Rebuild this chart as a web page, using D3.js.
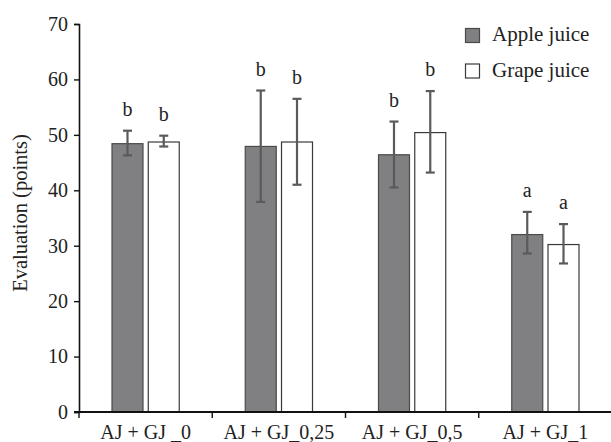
<!DOCTYPE html>
<html>
<head>
    <meta charset="utf-8">
    <script src="https://d3js.org/d3.v7.min.js" charset="utf-8"></script>
    <style>
        body { margin: 0; background: #fff; }
        text { font-family: "Liberation Serif", "Times New Roman", serif; fill: #222; }
    </style>
</head>
<body>
    <div id="chart_container"></div>
    <script>
        // data
        var categories = ['AJ + GJ _0', 'AJ + GJ_0,25', 'AJ + GJ_0,5', 'AJ + GJ_1'];
        var series = ['Apple juice', 'Grape juice'];
        var appleMean = [48.5, 48.0, 46.5, 32.1];
        var appleLow = [46.3, 37.9, 40.5, 28.6];
        var appleHigh = [50.75, 58.0, 52.4, 36.1];
        var grapeMean = [48.8, 48.8, 50.5, 30.3];
        var grapeLow = [47.9, 41.0, 43.2, 26.8];
        var grapeHigh = [49.85, 56.5, 57.9, 33.9];
        var appleLetters = ['b', 'b', 'b', 'a'];
        var grapeLetters = ['b', 'b', 'b', 'a'];
        var yTicks = [0, 10, 20, 30, 40, 50, 60, 70];

        var width = 611,
            height = 442;
        var margin = { top: 24, right: 0, bottom: 30, left: 79 };
        var plotRight = 612;

        var svg = d3.select('#chart_container')
            .append('svg')
            .attr('width', width)
            .attr('height', height);

        var x = d3.scaleBand()
            .domain(categories)
            .range([margin.left, plotRight])
            .paddingInner(0)
            .paddingOuter(0);

        var xInner = d3.scaleBand()
            .domain(series)
            .range([32.5, x.bandwidth() - 32.5])
            .paddingInner(8 / 68);

        var y = d3.scaleLinear()
            .domain([0, 70])
            .range([412, margin.top]);

        var rows = categories.map(function (c, i) {
            return [
                { cat: c, s: series[0], mean: appleMean[i], lo: appleLow[i], hi: appleHigh[i], letter: appleLetters[i] },
                { cat: c, s: series[1], mean: grapeMean[i], lo: grapeLow[i], hi: grapeHigh[i], letter: grapeLetters[i] }
            ];
        });
        var flat = [].concat.apply([], rows);

        var fills = { 'Apple juice': '#808083', 'Grape juice': '#ffffff' };
        var strokes = { 'Apple juice': '#4a4a4a', 'Grape juice': '#3a3a3a' };

        // bars
        svg.append('g').selectAll('rect')
            .data(flat)
            .enter().append('rect')
            .attr('x', function (d) { return x(d.cat) + xInner(d.s) + 0.5; })
            .attr('y', function (d) { return y(d.mean) + 0.5; })
            .attr('width', xInner.bandwidth() - 1)
            .attr('height', function (d) { return y(0) - y(d.mean) - 0.5; })
            .attr('fill', function (d) { return fills[d.s]; })
            .attr('stroke', function (d) { return strokes[d.s]; })
            .attr('stroke-width', 1.2);

        // error bars
        var eb = svg.append('g')
            .attr('stroke', '#5a5a5a')
            .attr('stroke-width', 2.2);
        var cx = function (d) { return x(d.cat) + xInner(d.s) + xInner.bandwidth() / 2; };
        eb.selectAll('.v').data(flat).enter().append('line')
            .attr('x1', cx).attr('x2', cx)
            .attr('y1', function (d) { return y(d.lo); })
            .attr('y2', function (d) { return y(d.hi); });
        eb.selectAll('.t').data(flat).enter().append('line')
            .attr('x1', function (d) { return cx(d) - 4.5; })
            .attr('x2', function (d) { return cx(d) + 4.5; })
            .attr('y1', function (d) { return y(d.hi); })
            .attr('y2', function (d) { return y(d.hi); });
        eb.selectAll('.b').data(flat).enter().append('line')
            .attr('x1', function (d) { return cx(d) - 4.5; })
            .attr('x2', function (d) { return cx(d) + 4.5; })
            .attr('y1', function (d) { return y(d.lo); })
            .attr('y2', function (d) { return y(d.lo); });

        // significance letters
        svg.append('g').selectAll('text')
            .data(flat)
            .enter().append('text')
            .attr('x', cx)
            .attr('y', function (d) { return y(d.hi) - 15; })
            .attr('text-anchor', 'middle')
            .style('font-size', '20px')
            .text(function (d) { return d.letter; });

        // y axis
        var yAxis = svg.append('g')
            .attr('transform', 'translate(' + margin.left + ',0)')
            .call(d3.axisLeft(y).tickValues(yTicks).tickSize(5).tickPadding(6));
        yAxis.select('.domain').attr('stroke', '#111').attr('stroke-width', 1.6);
        yAxis.selectAll('.tick line').attr('stroke', '#111').attr('stroke-width', 1.4);
        yAxis.selectAll('.tick text')
            .style('font-size', '20px')
            .style('font-family', '"Liberation Serif", serif')
            .attr('fill', '#222');

        // x axis
        var xAxis = svg.append('g')
            .attr('transform', 'translate(0,' + y(0) + ')')
            .call(d3.axisBottom(x).tickSize(0).tickPadding(13));
        xAxis.select('.domain').remove();
        xAxis.selectAll('.tick text')
            .style('font-size', '20px')
            .style('font-family', '"Liberation Serif", serif')
            .attr('fill', '#222');
        xAxis.append('line')
            .attr('x1', margin.left - 5).attr('x2', plotRight)
            .attr('y1', 0).attr('y2', 0)
            .attr('stroke', '#111').attr('stroke-width', 2);
        xAxis.selectAll('.sep')
            .data(categories)
            .enter().append('line')
            .attr('x1', function (d) { return x(d); })
            .attr('x2', function (d) { return x(d); })
            .attr('y1', 0).attr('y2', 6)
            .attr('stroke', '#111').attr('stroke-width', 1.4);

        // y label
        svg.append('text')
            .attr('transform', 'translate(27,213) rotate(-90)')
            .attr('text-anchor', 'middle')
            .style('font-size', '20.5px')
            .text('Evaluation (points)');

        // legend
        var legend = svg.append('g').attr('transform', 'translate(465,28)');
        series.forEach(function (s, i) {
            legend.append('rect')
                .attr('x', 0.5).attr('y', i * 35.5 + 0.5)
                .attr('width', 14).attr('height', 14)
                .attr('fill', fills[s])
                .attr('stroke', strokes[s])
                .attr('stroke-width', 1.2);
            legend.append('text')
                .attr('x', 27).attr('y', i * 35.5 + 13)
                .style('font-size', '21px')
                .text(s);
        });
    </script>
</body>
</html>
